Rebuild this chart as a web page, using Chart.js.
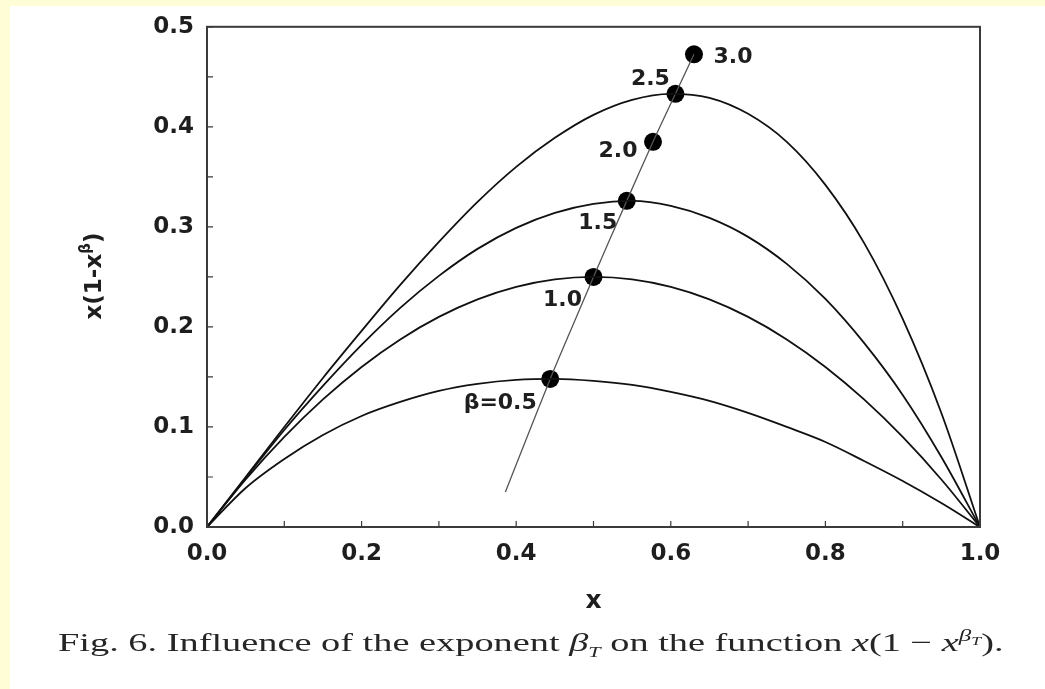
<!DOCTYPE html>
<html>
<head>
<meta charset="utf-8">
<script src="https://cdn.jsdelivr.net/npm/chart.js@4.4.1/dist/chart.umd.min.js"></script>
<style>
  html, body { margin: 0; padding: 0; }
  body { width: 1045px; height: 689px; background: #fefdd6; position: relative; overflow: hidden; }
  #panel { position: absolute; left: 10px; top: 6px; right: 0; bottom: 0; background: #fff; }
  #wrap { position: absolute; left: 0; top: 0; width: 1045px; height: 689px; }
  #caption {
    position: absolute; left: 58px; top: 626px; white-space: nowrap;
    font-family: "Liberation Serif", serif; font-size: 26px; color: #262626;
    transform: scaleX(1.475); transform-origin: left top;
  }
  #caption sub { font-size: 15px; }
  #caption sup { font-size: 17px; }
</style>
</head>
<body>
<div id="panel"></div>
<div id="wrap"><canvas id="chart"></canvas></div>
<div id="caption">Fig. 6. Influence of the exponent <i>β</i><sub><i>T</i></sub> on the function <i>x</i>(1 − <i>x</i><sup><i>β</i><sub style="font-size:12px"><i>T</i></sub></sup>).</div>
<script>
// values
const xs      = [0, 0.05, 0.1, 0.15, 0.2, 0.25, 0.3, 0.35, 0.4, 0.45, 0.5, 0.55, 0.6, 0.65, 0.7, 0.75, 0.8, 0.85, 0.9, 0.95, 1];
const curve05 = [0, 0.039, 0.068, 0.092, 0.111, 0.125, 0.136, 0.143, 0.147, 0.148, 0.146, 0.142, 0.135, 0.126, 0.114, 0.100, 0.085, 0.066, 0.046, 0.024, 0];
const curve10 = [0, 0.0475, 0.090, 0.1275, 0.160, 0.1875, 0.210, 0.2275, 0.240, 0.2475, 0.250, 0.2475, 0.240, 0.2275, 0.210, 0.1875, 0.160, 0.1275, 0.090, 0.0475, 0];
const curve15 = [0, 0.049, 0.097, 0.141, 0.182, 0.219, 0.251, 0.278, 0.299, 0.314, 0.323, 0.326, 0.321, 0.309, 0.290, 0.263, 0.228, 0.184, 0.132, 0.070, 0];
const curve25 = [0, 0.050, 0.100, 0.149, 0.196, 0.242, 0.285, 0.325, 0.360, 0.389, 0.412, 0.427, 0.433, 0.429, 0.413, 0.385, 0.342, 0.284, 0.208, 0.114, 0];

const peakX = [0.444, 0.5, 0.543, 0.577, 0.606, 0.630];
const peakY = [0.148, 0.250, 0.326, 0.385, 0.433, 0.4725];
const peakLabels = ['β=0.5', '1.0', '1.5', '2.0', '2.5', '3.0'];

const locusX = [0.386, 0.410, 0.444, 0.474, 0.500, 0.543, 0.577, 0.606, 0.630];
const locusY = [0.035, 0.082, 0.148, 0.203, 0.250, 0.326, 0.385, 0.433, 0.4725];

const xLabels = ['0.0', '0.2', '0.4', '0.6', '0.8', '1.0'];
const yLabels = ['0.0', '0.1', '0.2', '0.3', '0.4', '0.5'];

const pts = (a, b) => a.map((v, i) => ({ x: v, y: b[i] }));

const tickFont = { family: 'DejaVu Sans', weight: 'bold', size: 23 };
const ink = '#1e1e1e';

// label offsets from each dot, in px
const labelOffsets = [[-50, 24], [-31, 23], [-29, 22], [-35, 9], [-25, -15], [39, 3]];

const decor = {
  id: 'decor',
  afterDatasetsDraw(chart) {
    const { ctx, chartArea: a, scales: { x, y } } = chart;
    ctx.save();
    // frame
    ctx.strokeStyle = '#3a3a3a';
    ctx.lineWidth = 2;
    ctx.strokeRect(a.left, a.top, a.right - a.left, a.bottom - a.top);
    // inward ticks
    ctx.lineWidth = 1.2;
    ctx.beginPath();
    y.ticks.forEach(t => {
      const py = y.getPixelForValue(t.value);
      ctx.moveTo(a.left, py); ctx.lineTo(a.left + 6, py);
    });
    x.ticks.forEach(t => {
      const px = x.getPixelForValue(t.value);
      ctx.moveTo(px, a.bottom); ctx.lineTo(px, a.bottom - 6);
    });
    ctx.stroke();

    // peak labels
    ctx.fillStyle = ink;
    ctx.font = 'bold 22px "DejaVu Sans"';
    ctx.textAlign = 'center';
    ctx.textBaseline = 'middle';
    peakLabels.forEach((lab, i) => {
      const px = x.getPixelForValue(peakX[i]) + labelOffsets[i][0];
      const py = y.getPixelForValue(peakY[i]) + labelOffsets[i][1];
      ctx.fillText(lab, px, py);
    });

    // x title
    ctx.font = 'bold 25px "DejaVu Sans"';
    ctx.fillText('x', (a.left + a.right) / 2, 601);

    // y title, rotated, with superscript beta
    ctx.translate(95, 276);
    ctx.rotate(-Math.PI / 2);
    const big = 'bold 23px "DejaVu Sans"', small = 'bold 15px "DejaVu Sans"';
    ctx.font = big; const w1 = ctx.measureText('x(1-x').width, w3 = ctx.measureText(')').width;
    ctx.font = small; const w2 = ctx.measureText('β').width;
    let cx = -(w1 + w2 + w3) / 2;
    ctx.textAlign = 'left';
    ctx.font = big; ctx.fillText('x(1-x', cx, 0); cx += w1;
    ctx.font = small; ctx.fillText('β', cx, -9); cx += w2;
    ctx.font = big; ctx.fillText(')', cx, 0);
    ctx.restore();
  }
};

const curveStyle = { showLine: true, borderColor: '#111', borderWidth: 1.8, pointRadius: 0, cubicInterpolationMode: 'monotone', fill: false };

new Chart(document.getElementById('chart'), {
  type: 'scatter',
  data: {
    datasets: [
      { label: 'β=0.5', data: pts(xs, curve05), ...curveStyle },
      { label: 'β=1.0', data: pts(xs, curve10), ...curveStyle },
      { label: 'β=1.5', data: pts(xs, curve15), ...curveStyle },
      { label: 'β=2.5', data: pts(xs, curve25), ...curveStyle },
      { label: 'maxima', data: pts(locusX, locusY), showLine: true, borderColor: '#555', borderWidth: 1.3, pointRadius: 0, tension: 0.3 },
      { label: 'peaks', data: pts(peakX, peakY), showLine: false, pointRadius: 9, pointBackgroundColor: '#000', pointBorderColor: '#000', pointBorderWidth: 0 }
    ]
  },
  options: {
    responsive: true, maintainAspectRatio: false, animation: false,
    layout: { padding: { left: 0, top: 22, right: 65, bottom: 82 } },
    plugins: { legend: { display: false }, tooltip: { enabled: false } },
    scales: {
      x: {
        type: 'linear', min: 0, max: 1,
        afterFit: s => { s.height = 80; },
        grid: { display: false, drawTicks: false }, border: { display: false },
        ticks: { stepSize: 0.1, padding: 13, color: ink, font: tickFont, maxRotation: 0, autoSkip: false,
                 callback: v => { const i = Math.round(v * 10); return i % 2 === 0 ? xLabels[i / 2] : ''; } }
      },
      y: {
        type: 'linear', min: 0, max: 0.5,
        afterFit: s => { s.width = 207; },
        grid: { display: false, drawTicks: false }, border: { display: false },
        ticks: { stepSize: 0.05, padding: 13, color: ink, font: tickFont, autoSkip: false,
                 callback: v => { const i = Math.round(v * 20); return i % 2 === 0 ? yLabels[i / 2] : ''; } }
      }
    }
  },
  plugins: [decor]
});
</script>
</body>
</html>
